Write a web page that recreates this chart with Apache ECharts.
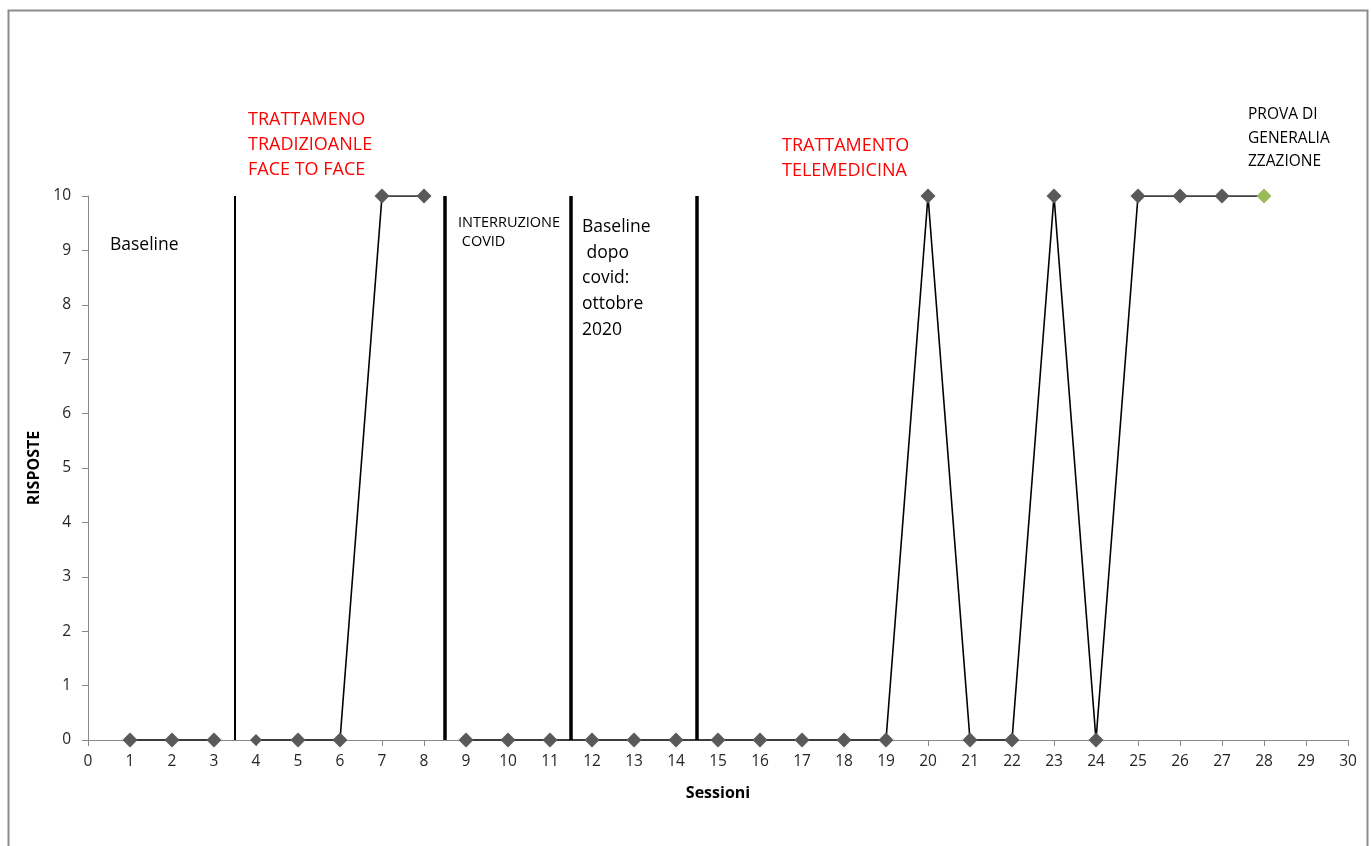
<!DOCTYPE html>
<html>
<head>
<meta charset="utf-8">
<script src="https://cdn.jsdelivr.net/npm/echarts@6/dist/echarts.min.js"></script>
<style>
html,body{margin:0;padding:0;background:#fff;}
#chart{width:1372px;height:846px;}
</style>
</head>
<body>
<div id="chart"></div>
<script>
// ---- data ----
var sessions = [1,2,3,4,5,6,7,8,9,10,11,12,13,14,15,16,17,18,19,20,21,22,23,24,25,26,27,28];
var responses = [0,0,0,0,0,0,10,10,0,0,0,0,0,0,0,0,0,0,0,10,0,0,10,0,10,10,10,10];
var segmentEnds = [3, 8, 28];          // the line is broken after these sessions
var phaseBoundaries = [3.5, 8.5, 11.5, 14.5];
var generalizationSession = 28;
var smallMarkerSession = 4;
var xTicks = [0,30];
var yRange = [0,10];

var annBaseline = ['Baseline'];
var annTradizionale = ['TRATTAMENO', 'TRADIZIOANLE', 'FACE TO FACE'];
var annCovid = ['INTERRUZIONE', ' COVID'];
var annBaselineDopo = ['Baseline', ' dopo', 'covid:', 'ottobre', '2020'];
var annTele = ['TRATTAMENTO', 'TELEMEDICINA'];
var annProva = ['PROVA DI', 'GENERALIA', 'ZZAZIONE'];

// ---- build series ----
var series = [];
phaseBoundaries.forEach(function (b, i) {
  series.push({
    type: 'line',
    data: [[b, yRange[0]], [b, yRange[1]]],
    symbol: 'none',
    silent: true,
    lineStyle: { color: '#000', width: i === 0 ? 2 : 3.5 },
    z: 3
  });
});
var start = 0;
segmentEnds.forEach(function (end) {
  var pts = [];
  for (var i = 0; i < sessions.length; i++) {
    var s = sessions[i];
    if (s > start && s <= end) {
      var p = { value: [s, responses[i]] };
      if (s === generalizationSession) p.itemStyle = { color: '#9BBB59' };
      if (s === smallMarkerSession) p.symbolSize = 12;
      pts.push(p);
    }
  }
  series.push({
    type: 'line',
    data: pts,
    symbol: 'diamond',
    symbolSize: 15,
    showAllSymbol: true,
    itemStyle: { color: '#595959' },
    lineStyle: { color: '#000', width: 1.6 },
    z: 5
  });
  start = end;
});

var txt = function (lines, x, y, size, color, lh) {
  return {
    type: 'text', left: x, top: y, z: 10,
    style: {
      text: lines.join('\n'), fill: color,
      font: size + 'px "Open Sans", sans-serif',
      lineHeight: lh, textVerticalAlign: 'top'
    }
  };
};

var chart = echarts.init(document.getElementById('chart'), null, { renderer: 'canvas' });
chart.setOption({
  backgroundColor: '#fff',
  animation: false,
  grid: { left: 88, right: 24, top: 196, bottom: 106, containLabel: false },
  xAxis: {
    type: 'value', min: xTicks[0], max: xTicks[1], interval: 1,
    name: 'Sessioni', nameLocation: 'middle', nameGap: 45,
    nameTextStyle: { fontFamily: 'Open Sans', fontWeight: 'bold', fontSize: 16, color: '#000' },
    axisLine: { lineStyle: { color: '#888', width: 1 } },
    axisTick: { show: true, length: 6, lineStyle: { color: '#888' } },
    axisLabel: { fontFamily: 'Open Sans', fontSize: 15.5, color: '#262626', margin: 14 },
    splitLine: { show: false }
  },
  yAxis: {
    type: 'value', min: yRange[0], max: yRange[1], interval: 1,
    name: 'RISPOSTE', nameLocation: 'middle', nameGap: 46, nameRotate: 90,
    nameTextStyle: { fontFamily: 'Open Sans', fontWeight: 'bold', fontSize: 16, color: '#000' },
    axisLine: { show: true, lineStyle: { color: '#888', width: 1 } },
    axisTick: { show: true, length: 6, lineStyle: { color: '#888' } },
    axisLabel: { fontFamily: 'Open Sans', fontSize: 15.5, color: '#262626', margin: 17 },
    splitLine: { show: false }
  },
  series: series,
  graphic: [
    { type: 'rect', left: 6, top: 8, z: 0, silent: true,
      shape: { width: 1359, height: 850 },
      style: { fill: 'none', stroke: '#8c8c8c', lineWidth: 2 } },
    txt(annBaseline, 110, 233, 17.5, '#000', 25),
    txt(annTradizionale, 248, 107, 18, '#FF0000', 25),
    txt(annCovid, 458, 213, 14.5, '#000', 19),
    txt(annBaselineDopo, 582, 214, 17.5, '#000', 25.8),
    txt(annTele, 782, 133, 18, '#FF0000', 25),
    txt(annProva, 1248, 103, 15.5, '#000', 23.5)
  ]
});
</script>
</body>
</html>
